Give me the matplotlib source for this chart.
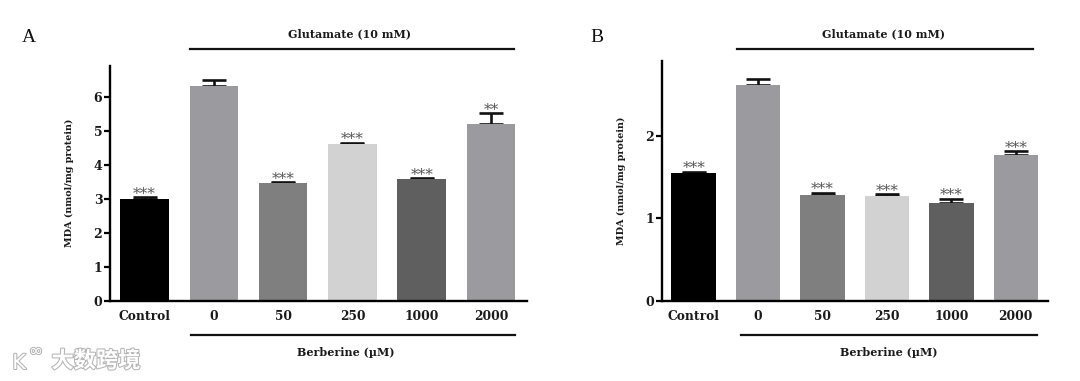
#!/usr/bin/env python3
import matplotlib
matplotlib.use("Agg")
import matplotlib.pyplot as plt
import matplotlib.patheffects as pe
from matplotlib.lines import Line2D

W, H = 1080, 381

categories = ["Control", "0", "50", "250", "1000", "2000"]
bar_colors = ["#000000", "#9b9a9e", "#7f7f7f", "#d2d2d2", "#5f5f5f", "#9b9a9e"]

# panel A
mda_a = [3.0, 6.34, 3.47, 4.63, 3.58, 5.2]
err_a = [0.04, 0.17, 0.02, 0.02, 0.03, 0.32]
stars_a = ["***", "", "***", "***", "***", "**"]

# panel B
mda_b = [1.555, 2.62, 1.287, 1.275, 1.18, 1.773]
err_b = [0.008, 0.07, 0.025, 0.015, 0.055, 0.04]
stars_b = ["***", "", "***", "***", "***", "***"]

SERIF = "DejaVu Serif"


def px_axes(fig, left, top, right, bottom):
    return fig.add_axes([left / W, 1 - bottom / H, (right - left) / W, (bottom - top) / H])


def fig_line(fig, x0, x1, y):
    fig.add_artist(Line2D([x0 / W, x1 / W], [1 - y / H, 1 - y / H], color="#111111", lw=1.6))


def fig_text(fig, x, y, s, **kw):
    fig.text(x / W, 1 - y / H, s, ha="center", va="center", **kw)


def draw_panel(ax, vals, errs, stars, yticks, ymax, xlim, width):
    xs = list(range(len(vals)))
    ax.bar(xs, vals, width=width, color=bar_colors, zorder=2)
    ax.errorbar(xs, vals, yerr=[[0] * len(errs), errs], fmt="none", ecolor="#111111",
                elinewidth=1.9, capsize=8.5, capthick=1.9, zorder=1)
    for x, v, e, s in zip(xs, vals, errs, stars):
        if s:
            ax.annotate(s, (x, v + e), xytext=(0, -2.5), textcoords="offset points", ha="center",
                        va="bottom", fontsize=11, color="#555555", family=SERIF)
    ax.set_xlim(*xlim)
    ax.set_ylim(0, ymax)
    ax.set_yticks(yticks)
    ax.set_xticks(xs)
    ax.set_xticklabels(categories)
    ax.tick_params(axis="x", length=0, pad=7, labelsize=8.8)
    ax.tick_params(axis="y", length=4, width=1.6, pad=1.5, labelsize=9)
    for lab in ax.get_xticklabels() + ax.get_yticklabels():
        lab.set_family(SERIF)
        lab.set_fontweight("bold")
        lab.set_color("#1a1a1a")
    ax.spines["top"].set_visible(False)
    ax.spines["right"].set_visible(False)
    ax.spines["left"].set_linewidth(1.7)
    ax.spines["bottom"].set_linewidth(1.7)
    ax.set_ylabel("MDA (nmol/mg protein)", fontsize=6.9, family=SERIF, fontweight="bold",
                  color="#1a1a1a", labelpad=14)


fig = plt.figure(figsize=(W / 100, H / 100), dpi=100)

ax_a = px_axes(fig, 110, 66, 527, 300.5)
draw_panel(ax_a, mda_a, err_a, stars_a, range(0, 7), 6.92, (-0.5, 5.52), 0.7)

ax_b = px_axes(fig, 661.5, 61, 1048, 300.5)
draw_panel(ax_b, mda_b, err_b, stars_b, [0, 1, 2], 2.91, (-0.5, 5.5), 0.69)

# brackets and group labels
fig_line(fig, 190, 514, 49)
fig_line(fig, 191, 515, 335)
fig_line(fig, 737, 1033, 49)
fig_line(fig, 741, 1037, 335)
bold = dict(family=SERIF, fontweight="bold", fontsize=8, color="#1a1a1a")
fig_text(fig, 350, 34, "Glutamate (10 mM)", **bold)
fig_text(fig, 346, 352, "Berberine (µM)", **bold)
fig_text(fig, 884, 34, "Glutamate (10 mM)", **bold)
fig_text(fig, 889, 352, "Berberine (µM)", **bold)

fig_text(fig, 29, 37, "A", family="Liberation Serif", fontsize=14, color="#111111")
fig_text(fig, 597, 37, "B", family="Liberation Serif", fontsize=14, color="#111111")

# watermark
halo = [pe.withStroke(linewidth=1.5, foreground="#b5b5b5")]
fig_text(fig, 96, 361, "大数跨境", family="Noto Sans CJK SC", fontsize=16, color="white",
         fontweight="bold", path_effects=halo)
fig_text(fig, 19, 363, "K", family="DejaVu Sans", fontsize=15, color="white", path_effects=halo)
fig_text(fig, 36, 351, "∞", family="DejaVu Sans", fontsize=12, color="white", path_effects=halo)

fig.savefig("out.png", dpi=100)
plt.close(fig)
